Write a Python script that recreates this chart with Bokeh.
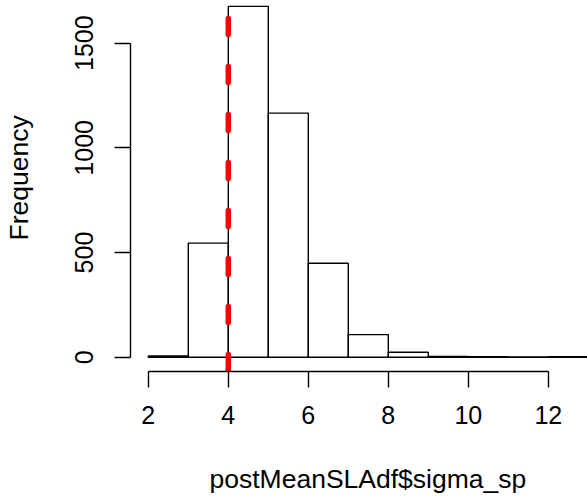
from bokeh.plotting import figure
from bokeh.models import FixedTicker, Range1d, LinearAxis, Title
from bokeh.embed import file_html
from bokeh.resources import INLINE

# Histogram data (bin edges and counts)
bin_edges = [2, 3, 4, 5, 6, 7, 8, 9, 10, 11, 12, 13]
counts = [6, 545, 1676, 1166, 449, 108, 24, 3, 2, 1, 2]
ref_value = 4
x_ticks = [2, 4, 6, 8, 10, 12]
y_ticks = [0, 500, 1000, 1500]
x_title = "postMeanSLAdf$sigma_sp"
y_title = "Frequency"

FONT = "Liberation Sans"
y0, y1 = -68.3, 1704

p = figure(width=587, height=499, output_backend="svg", toolbar_location=None,
           x_range=Range1d(1.555, 12.98), y_range=Range1d(y0, y1),
           min_border_left=130, min_border_right=0, min_border_top=0,
           min_border_bottom=128)
p.outline_line_color = None
p.xgrid.visible = False
p.ygrid.visible = False
p.background_fill_color = "white"
p.border_fill_color = "white"

p.quad(left=bin_edges[:-1], right=bin_edges[1:], bottom=0, top=counts,
       fill_color="white", line_color="black", line_width=1.4)

p.segment(x0=[ref_value], y0=[y1], x1=[ref_value], y1=[y0],
          line_color="red", line_width=5.5, line_dash="16 32",
          line_dash_offset=30, line_cap="round")

for ax, ticks in ((p.xaxis[0], x_ticks), (p.yaxis[0], y_ticks)):
    ax.ticker = FixedTicker(ticks=ticks)
    ax.bounds = (ticks[0], ticks[-1])
    ax.axis_line_color = "black"
    ax.axis_line_width = 1.4
    ax.major_tick_line_width = 1.4
    ax.major_tick_out = 16
    ax.major_tick_in = 0
    ax.minor_tick_line_color = None
    ax.major_label_text_font = FONT
    ax.major_label_text_font_size = "25px"
    ax.major_label_text_color = "black"

p.xaxis.major_label_standoff = 18
p.yaxis.major_label_standoff = 21
p.yaxis.major_label_orientation = "vertical"


def spacer(tick_at, size):
    # blank axis (white tick in an empty corner, no labels) that only leaves
    # room between the tick labels and the axis titles
    return LinearAxis(ticker=FixedTicker(ticks=[tick_at]), axis_line_color=None,
                      major_tick_line_color="white", minor_tick_line_color=None,
                      major_tick_out=size, major_tick_in=0, minor_tick_out=0,
                      minor_tick_in=0, major_label_standoff=0,
                      major_label_text_color=None,
                      major_label_text_font_size="1px")


p.add_layout(spacer(12.9, 37), "below")
p.add_layout(spacer(1700, 37), "left")

p.add_layout(Title(text=x_title, align="left", offset=79, vertical_align="top",
                   standoff=0, text_font=FONT, text_font_size="26.5px",
                   text_font_style="normal", text_color="black"), "below")
p.add_layout(Title(text=y_title, align="left", offset=131, vertical_align="top",
                   standoff=0, text_font=FONT, text_font_size="26.5px",
                   text_font_style="normal", text_color="black"), "left")

open("out.html", "w").write(file_html(p, INLINE))
